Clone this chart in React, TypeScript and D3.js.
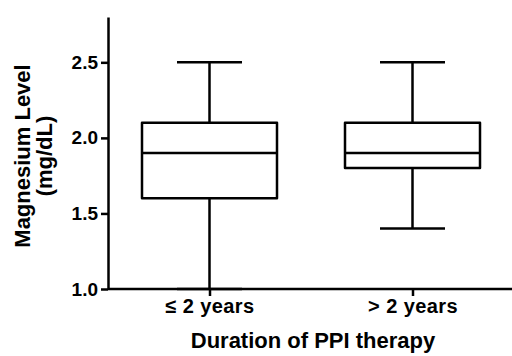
import { useRef, useEffect } from 'react';
import * as d3 from 'd3';

const groups = ['≤ 2 years', '> 2 years'];
const mins = [1.0, 1.4];
const q1s = [1.6, 1.8];
const medians = [1.9, 1.9];
const q3s = [2.1, 2.1];
const maxs = [2.5, 2.5];
const yTicks = [1.0, 1.5, 2.0, 2.5];

function App() {
  const svgRef = useRef<SVGSVGElement>(null);
  const width = 512;
  const height = 356;

  useEffect(() => {
    const svg = d3.select(svgRef.current);
    svg.selectAll('*').remove();

    const left = 108;
    const bottom = 289;
    const top = 17;
    const font = "'Liberation Sans', Arial, sans-serif";

    const y = d3.scaleLinear().domain([1, 2.8]).range([bottom, top]);
    const x = d3.scalePoint().domain(groups).range([left, 514]).padding(0.5);
    const boxW = 135;
    const capW = 65;

    const data = groups.map((g, i) => ({
      g,
      min: mins[i],
      q1: q1s[i],
      med: medians[i],
      q3: q3s[i],
      max: maxs[i],
    }));

    // boxes
    const box = svg
      .append('g')
      .attr('stroke', '#000')
      .attr('stroke-width', 2.5)
      .attr('fill', 'none')
      .selectAll('g')
      .data(data)
      .join('g')
      .attr('transform', (d) => `translate(${x(d.g)},0)`);

    box
      .append('line')
      .attr('y1', (d) => y(d.max))
      .attr('y2', (d) => y(d.q3));
    box
      .append('line')
      .attr('y1', (d) => y(d.q1))
      .attr('y2', (d) => y(d.min));
    box
      .append('line')
      .attr('x1', -capW / 2)
      .attr('x2', capW / 2)
      .attr('y1', (d) => y(d.max))
      .attr('y2', (d) => y(d.max));
    box
      .append('line')
      .attr('x1', -capW / 2)
      .attr('x2', capW / 2)
      .attr('y1', (d) => y(d.min))
      .attr('y2', (d) => y(d.min));
    box
      .append('rect')
      .attr('x', -boxW / 2)
      .attr('width', boxW)
      .attr('y', (d) => y(d.q3))
      .attr('height', (d) => y(d.q1) - y(d.q3))
      .attr('stroke-linejoin', 'round');
    box
      .append('line')
      .attr('x1', -boxW / 2)
      .attr('x2', boxW / 2)
      .attr('y1', (d) => y(d.med))
      .attr('y2', (d) => y(d.med));

    // y axis
    const yAxis = svg
      .append('g')
      .attr('transform', `translate(${left},0)`)
      .call(
        d3
          .axisLeft(y)
          .tickValues(yTicks)
          .tickFormat(d3.format('.1f'))
          .tickSize(7)
          .tickSizeOuter(0)
          .tickPadding(3)
      );
    yAxis.select('.domain').attr('stroke-width', 2.5);
    yAxis.selectAll('.tick line').attr('stroke-width', 2.5);
    yAxis
      .selectAll('.tick text')
      .attr('font-family', font)
      .attr('font-weight', 'bold')
      .attr('font-size', 19)
      .attr('fill', '#000');

    // x axis
    const xAxis = svg
      .append('g')
      .attr('transform', `translate(0,${bottom})`)
      .call(d3.axisBottom(x).tickSize(7).tickSizeOuter(0).tickPadding(3));
    xAxis.select('.domain').attr('d', `M${left},0H${width}`).attr('stroke-width', 2.5);
    xAxis.selectAll('.tick line').attr('stroke-width', 2.5);
    xAxis
      .selectAll('.tick text')
      .attr('font-family', font)
      .attr('font-weight', 'bold')
      .attr('font-size', 20)
      .attr('letter-spacing', 0.4)
      .attr('fill', '#000');

    // titles
    svg
      .append('text')
      .attr('x', 313)
      .attr('y', 348)
      .attr('text-anchor', 'middle')
      .attr('font-family', font)
      .attr('font-weight', 'bold')
      .attr('font-size', 22)
      .text('Duration of PPI therapy');

    const yTitle = svg
      .append('text')
      .attr('transform', 'translate(0,156) rotate(-90)')
      .attr('text-anchor', 'middle')
      .attr('font-family', font)
      .attr('font-weight', 'bold')
      .attr('font-size', 22);
    yTitle.append('tspan').attr('x', 0).attr('y', 30).text('Magnesium Level');
    yTitle.append('tspan').attr('x', 0).attr('y', 52).text('(mg/dL)');
  }, []);

  return (
    <svg
      ref={svgRef}
      width={width}
      height={height}
      style={{ position: 'absolute', left: 0, top: 0, background: '#fff' }}
    ></svg>
  );
}

export default App;
